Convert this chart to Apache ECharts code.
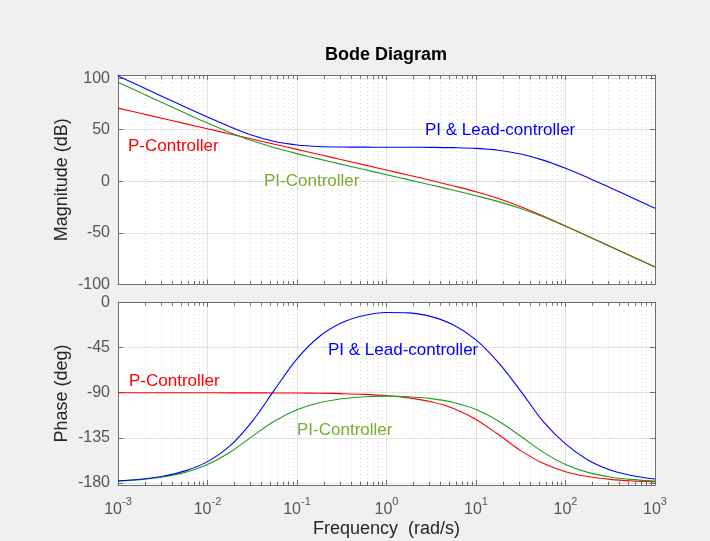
<!DOCTYPE html>
<html><head><meta charset="utf-8">
<script src="https://cdn.jsdelivr.net/npm/echarts@6/dist/echarts.min.js"></script>
<style>html,body{margin:0;padding:0;background:#f0f0f0;}#c{width:710px;height:541px;}</style>
</head><body><div id="c"></div>
<script>
// Frequencies (rad/s), quarter-decade sampling
const freq = [0.001, 0.00178, 0.00316, 0.00562, 0.01, 0.0178, 0.0316, 0.0562, 0.1, 0.178, 0.316, 0.562, 1, 1.78, 3.16, 5.62, 10, 17.8, 31.6, 56.2, 100, 178, 316, 562, 1000];
// Magnitude (dB)
const magP    = [70.9, 65.9, 60.9, 55.9, 50.9, 45.9, 40.9, 35.9, 30.9, 25.9, 20.9, 15.9, 10.9, 5.9, 0.8, -4.5, -10.1, -16.7, -24.6, -33.6, -43.3, -53.2, -63.1, -73.1, -83.1];
const magPI   = [96.0, 86.0, 76.0, 66.1, 56.4, 47.3, 39.2, 32.5, 26.8, 21.5, 16.4, 11.4, 6.4, 1.4, -3.6, -8.7, -14.0, -19.7, -26.4, -34.4, -43.6, -53.3, -63.2, -73.1, -83.1];
const magLead = [102.0, 92.0, 82.0, 72.1, 62.3, 52.9, 44.6, 38.5, 35.2, 33.7, 33.2, 33.1, 33.0, 33.0, 32.9, 32.6, 31.9, 30.1, 26.4, 20.5, 12.6, 3.5, -6.2, -16.1, -26.0];
// Phase (deg)
const phP    = [-90.0, -90.0, -90.0, -90.0, -90.0, -90.1, -90.1, -90.2, -90.3, -90.5, -90.9, -91.6, -92.9, -95.1, -99.0, -105.7, -116.6, -131.7, -147.7, -160.4, -168.7, -173.6, -176.4, -178.0, -178.9];
const phPI   = [-178.1, -176.6, -174.0, -169.4, -161.6, -149.4, -133.5, -118.2, -106.9, -99.9, -96.0, -94.0, -93.4, -94.0, -95.9, -99.8, -106.8, -118.1, -133.4, -149.2, -161.5, -169.4, -174.0, -176.6, -178.1];
const phLead = [-177.8, -176.2, -173.2, -167.9, -158.7, -143.0, -118.5, -86.9, -56.2, -33.9, -20.3, -13.0, -10.0, -10.3, -14.1, -22.5, -37.3, -60.0, -88.3, -118.5, -141.0, -157.0, -167.0, -172.7, -176.0];
// Ticks
const freqTicks = [0.001, 0.01, 0.1, 1, 10, 100, 1000];
const magTicks = [-100, -50, 0, 50, 100];
const phaseTicks = [-180, -135, -90, -45, 0];
const minorMult = [2, 3, 4, 5, 6, 7, 8, 9];
const decades = [-3, -2, -1, 0, 1, 2];

const FONT = '"Liberation Sans", Arial, Helvetica, sans-serif';
const frameColor = '#6e6e6e';
const labelColor = '#555555';
const nameColor = '#262626';
const gridColor = '#e0e0e0';
const minorColor = '#dadada';

const minorFreqs = [];
decades.forEach(d => minorMult.forEach(m => minorFreqs.push(m * Math.pow(10, d))));

function pairs(ys) { return freq.map((f, i) => [f, ys[i]]); }

function xAx(gridIndex, pos, labels, name) {
  return {
    type: 'log', logBase: 10, gridIndex, position: pos, min: 0.001, max: 1000,
    axisLine: {show: true, onZero: false, lineStyle: {color: frameColor, width: 1}},
    axisTick: {show: true, inside: true, length: 5, customValues: freqTicks, lineStyle: {color: frameColor}},
    axisLabel: labels ? {
      show: true, customValues: freqTicks, margin: 11,
      formatter: v => '{b|10}{s|' + Math.round(Math.log10(v)) + '}',
      rich: {
        b: {fontSize: 16, fontFamily: FONT, color: labelColor, lineHeight: 22, verticalAlign: 'bottom'},
        s: {fontSize: 11, fontFamily: FONT, color: labelColor, lineHeight: 12, verticalAlign: 'top'}
      }
    } : {show: false},
    splitLine: {show: pos === 'bottom', lineStyle: {color: gridColor, width: 1}},
    name: name || '', nameLocation: 'middle', nameGap: 35, nameMoveOverlap: false,
    nameTextStyle: {fontSize: 18, fontFamily: FONT, color: nameColor}
  };
}
function yAx(gridIndex, pos, min, max, ticks, labels, name) {
  return {
    type: 'value', gridIndex, position: pos, min, max,
    axisLine: {show: true, onZero: false, lineStyle: {color: frameColor, width: 1}},
    axisTick: {show: true, inside: true, length: 5, customValues: ticks, lineStyle: {color: frameColor}},
    axisLabel: labels ? {show: true, customValues: ticks, margin: 8, fontSize: 16, fontFamily: FONT, color: labelColor} : {show: false},
    splitLine: {show: pos === 'left', lineStyle: {color: gridColor, width: 1}},
    name: name || '', nameLocation: 'middle', nameGap: 47, nameMoveOverlap: false,
    nameTextStyle: {fontSize: 18, fontFamily: FONT, color: nameColor}
  };
}
function minorSeries(xi, yi, refY) {
  return {
    type: 'custom', xAxisIndex: xi, yAxisIndex: yi, silent: true, z: 1, clip: false,
    data: minorFreqs.map(f => [f, refY]),
    encode: {x: 0, y: 1},
    renderItem: (params, api) => {
      const cs = params.coordSys;
      const x = Math.round(api.coord([api.value(0), api.value(1)])[0]) + 0.5;
      const top = cs.y, bot = cs.y + cs.height;
      return {type: 'group', children: [
        {type: 'line', shape: {x1: x, y1: top, x2: x, y2: bot}, style: {stroke: minorColor, lineWidth: 1, lineDash: [1, 3]}},
        {type: 'line', shape: {x1: x, y1: bot, x2: x, y2: bot - 3.5}, style: {stroke: frameColor, lineWidth: 1}},
        {type: 'line', shape: {x1: x, y1: top, x2: x, y2: top + 3.5}, style: {stroke: frameColor, lineWidth: 1}}
      ]};
    }
  };
}
function lineSeries(xi, yi, ys, color) {
  return {type: 'line', xAxisIndex: xi, yAxisIndex: yi, data: pairs(ys), showSymbol: false, symbol: 'none',
    smooth: 0.35, lineStyle: {color, width: 1.1}, z: 3, silent: true, animation: false};
}
function txt(x, y, text, color, size, weight, align) {
  return {type: 'text', x, y, silent: true, z: 10,
    style: {text, fill: color, fontSize: size, fontFamily: FONT, fontWeight: weight || 'normal', align: align || 'left', verticalAlign: 'middle'}};
}

const chart = echarts.init(document.getElementById('c'), null, {renderer: 'canvas'});
chart.setOption({
  animation: false,
  backgroundColor: '#f0f0f0',
  grid: [
    {left: 118, top: 75, width: 537, height: 209.5, show: true, backgroundColor: '#ffffff', borderWidth: 0},
    {left: 118, top: 302, width: 537, height: 183, show: true, backgroundColor: '#ffffff', borderWidth: 0}
  ],
  xAxis: [
    xAx(0, 'bottom', false), xAx(0, 'top', false),
    xAx(1, 'bottom', true, 'Frequency  (rad/s)'), xAx(1, 'top', false)
  ],
  yAxis: [
    yAx(0, 'left', -100, 103, magTicks, true, 'Magnitude (dB)'), yAx(0, 'right', -100, 103, magTicks, false),
    yAx(1, 'left', -182, 0.5, phaseTicks, true, 'Phase (deg)'), yAx(1, 'right', -182, 0.5, phaseTicks, false)
  ],
  series: [
    minorSeries(0, 0, 0), minorSeries(2, 2, -90),
    lineSeries(0, 0, magP, '#ff0000'), lineSeries(0, 0, magPI, '#1e9e1e'), lineSeries(0, 0, magLead, '#0000ff'),
    lineSeries(2, 2, phP, '#ff0000'), lineSeries(2, 2, phPI, '#1e9e1e'), lineSeries(2, 2, phLead, '#0000ff')
  ],
  graphic: [
    txt(386, 55, 'Bode Diagram', '#000000', 18, 'bold', 'center'),
    txt(128, 146, 'P-Controller', '#ff0000', 17),
    txt(264, 181, 'PI-Controller', '#77ac30', 17),
    txt(425, 130, 'PI & Lead-controller', '#0000ff', 17),
    txt(129, 381, 'P-Controller', '#ff0000', 17),
    txt(328, 350, 'PI & Lead-controller', '#0000ff', 17),
    txt(297, 430, 'PI-Controller', '#77ac30', 17)
  ]
});
</script></body></html>
